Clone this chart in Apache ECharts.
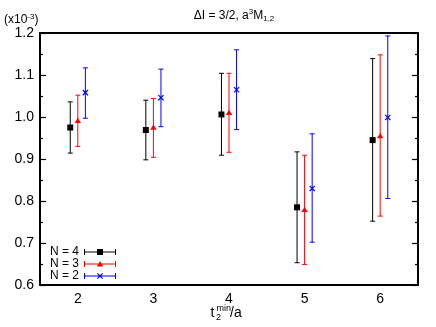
<!DOCTYPE html>
<html>
<head>
<meta charset="utf-8">
<script src="https://cdn.jsdelivr.net/npm/echarts@6/dist/echarts.min.js"></script>
<style>html,body{margin:0;padding:0;background:#fff}#c{width:436px;height:327px}</style>
</head>
<body>
<div id="c"></div>
<script>
const categories = ['2', '3', '4', '5', '6'];
const xs = [2, 3, 4, 5, 6];
const yTicks = [0.6, 0.7, 0.8, 0.9, 1.0, 1.1, 1.2];

const n4Center = [0.975, 0.969, 1.006, 0.785, 0.945];
const n4Low    = [0.914, 0.898, 0.909, 0.653, 0.752];
const n4High   = [1.036, 1.040, 1.104, 0.917, 1.139];

const n3Center = [0.991, 0.975, 1.010, 0.779, 0.955];
const n3Low    = [0.930, 0.904, 0.916, 0.649, 0.764];
const n3High   = [1.052, 1.044, 1.104, 0.909, 1.148];

const n2Center = [1.058, 1.046, 1.065, 0.830, 0.999];
const n2Low    = [0.997, 0.977, 0.970, 0.702, 0.806];
const n2High   = [1.117, 1.114, 1.160, 0.960, 1.193];

const FONT = '"Liberation Sans", Arial, Helvetica, sans-serif';

function makeData(offset, c, lo, hi) {
  return xs.map((x, i) => [x + offset, c[i], lo[i], hi[i]]);
}

function makeRender(marker) {
  return function (params, api) {
    const x = api.value(0), c = api.value(1), lo = api.value(2), hi = api.value(3);
    const pc = api.coord([x, c]);
    const pl = api.coord([x, lo]);
    const ph = api.coord([x, hi]);
    const color = api.visual('color');
    const cap = 2.5;
    const ls = { stroke: color, lineWidth: 1 };
    const children = [
      { type: 'line', shape: { x1: pl[0], y1: pl[1], x2: ph[0], y2: ph[1] }, style: ls },
      { type: 'line', shape: { x1: pl[0] - cap, y1: pl[1], x2: pl[0] + cap, y2: pl[1] }, style: ls },
      { type: 'line', shape: { x1: ph[0] - cap, y1: ph[1], x2: ph[0] + cap, y2: ph[1] }, style: ls }
    ];
    if (marker === 'square') {
      children.push({ type: 'rect', shape: { x: pc[0] - 3, y: pc[1] - 3, width: 6, height: 6 }, style: { fill: color } });
    } else if (marker === 'triangle') {
      children.push({ type: 'polygon', shape: { points: [[pc[0] - 3.2, pc[1] + 2.3], [pc[0] + 3.2, pc[1] + 2.3], [pc[0], pc[1] - 3]] }, style: { fill: color } });
    } else {
      const s = 2.6;
      children.push({ type: 'line', shape: { x1: pc[0] - s, y1: pc[1] - s, x2: pc[0] + s, y2: pc[1] + s }, style: { stroke: color, lineWidth: 1.2 } });
      children.push({ type: 'line', shape: { x1: pc[0] - s, y1: pc[1] + s, x2: pc[0] + s, y2: pc[1] - s }, style: { stroke: color, lineWidth: 1.2 } });
    }
    return { type: 'group', children };
  };
}

const base = 'M0,1h1v6h-1z M31,1h1v6h-1z M0,3.5h32v1h-32z ';
const iconSquare = 'path://' + base + 'M13,1h6v6h-6z';
const iconTri = 'path://' + base + 'M12.8,6.5L16,1L19.2,6.5z';
const iconCross = 'path://' + base + 'M13,1.8L13.8,1L19,6.2L18.2,7z M18.2,1L19,1.8L13.8,7L13,6.2z';

const axisLineStyle = { color: '#000', width: 2 };

const option = {
  animation: false,
  backgroundColor: '#fff',
  textStyle: { fontFamily: FONT },
  title: {
    text: 'ΔI = 3/2, a{sup|3}M{sub|1,2}',
    left: 229,
    top: 3,
    textAlign: 'center',
    textStyle: {
      fontFamily: FONT, fontSize: 12, fontWeight: 'normal', color: '#000',
      rich: {
        sup: { fontFamily: FONT, fontSize: 8, color: '#000', padding: [0, 0, 7, 0] },
        sub: { fontFamily: FONT, fontSize: 8, color: '#000', padding: [7, 0, 0, 0] }
      }
    }
  },
  legend: {
    orient: 'vertical',
    align: 'right',
    left: 45,
    top: 241,
    itemWidth: 32,
    itemHeight: 8,
    itemGap: 0,
    textStyle: { fontFamily: FONT, fontSize: 12, color: '#000', lineHeight: 11.5, padding: [0, 0, 0, 0] },
    data: [
      { name: 'N = 4', icon: iconSquare },
      { name: 'N = 3', icon: iconTri },
      { name: 'N = 2', icon: iconCross }
    ]
  },
  grid: { left: 40, right: 18, top: 33, bottom: 42, containLabel: false },
  xAxis: [
    {
      type: 'category', data: categories, boundaryGap: true, position: 'bottom',
      axisLine: { lineStyle: axisLineStyle },
      axisTick: { alignWithLabel: true, inside: true, length: 6, lineStyle: { color: '#000', width: 1.2 } },
      axisLabel: { fontFamily: FONT, fontSize: 14, color: '#000', margin: 7 },
      splitLine: { show: false }
    },
    { type: 'value', min: 1.5, max: 6.5, show: false },
    {
      type: 'category', data: categories, boundaryGap: true, position: 'top',
      axisLine: { lineStyle: axisLineStyle },
      axisTick: { alignWithLabel: true, inside: true, length: 6, lineStyle: { color: '#000', width: 1.2 } },
      axisLabel: { show: false },
      splitLine: { show: false }
    }
  ],
  yAxis: [
    {
      type: 'value', min: yTicks[0], max: yTicks[yTicks.length - 1], interval: 0.1,
      axisLine: { show: true, lineStyle: axisLineStyle },
      axisTick: { show: true, inside: true, length: 6, lineStyle: { color: '#000', width: 1.2 } },
      minorTick: { show: true, splitNumber: 2, length: 3, lineStyle: { color: '#000', width: 1.2 } },
      axisLabel: { fontFamily: FONT, fontSize: 14, color: '#000', margin: 6, formatter: v => v.toFixed(1) },
      splitLine: { show: false }
    },
    {
      type: 'value', min: yTicks[0], max: yTicks[yTicks.length - 1], interval: 0.1, position: 'right',
      axisLine: { show: true, lineStyle: axisLineStyle },
      axisTick: { show: true, inside: true, length: 6, lineStyle: { color: '#000', width: 1.2 } },
      minorTick: { show: true, splitNumber: 2, length: 3, lineStyle: { color: '#000', width: 1.2 } },
      axisLabel: { show: false },
      splitLine: { show: false }
    }
  ],
  graphic: [
    { type: 'text', x: 4, y: 20, style: { text: '(x10{s|-3})', font: '12px ' + FONT, fill: '#000', verticalAlign: 'middle',
      rich: { s: { fontSize: 8, fontFamily: FONT, fill: '#000', padding: [0, 0, 7, 0] } } } },
    { type: 'text', x: 210.5, y: 313, style: { text: 't', font: '14px ' + FONT, fill: '#000', verticalAlign: 'middle' } },
    { type: 'text', x: 216.5, y: 309, style: { text: 'min', font: '9px ' + FONT, fill: '#000', verticalAlign: 'middle' } },
    { type: 'text', x: 216, y: 318, style: { text: '2', font: '9px ' + FONT, fill: '#000', verticalAlign: 'middle' } },
    { type: 'text', x: 230, y: 313, style: { text: '/a', font: '14px ' + FONT, fill: '#000', verticalAlign: 'middle' } }
  ],
  series: [
    {
      name: 'N = 4', type: 'custom', xAxisIndex: 1, yAxisIndex: 0,
      itemStyle: { color: '#000000' },
      renderItem: makeRender('square'),
      encode: { x: 0, y: [1, 2, 3] },
      data: makeData(-0.1, n4Center, n4Low, n4High)
    },
    {
      name: 'N = 3', type: 'custom', xAxisIndex: 1, yAxisIndex: 0,
      itemStyle: { color: '#ff0000' },
      renderItem: makeRender('triangle'),
      encode: { x: 0, y: [1, 2, 3] },
      data: makeData(0, n3Center, n3Low, n3High)
    },
    {
      name: 'N = 2', type: 'custom', xAxisIndex: 1, yAxisIndex: 0,
      itemStyle: { color: '#0000ff' },
      renderItem: makeRender('cross'),
      encode: { x: 0, y: [1, 2, 3] },
      data: makeData(0.1, n2Center, n2Low, n2High)
    }
  ]
};

const chart = echarts.init(document.getElementById('c'), null, { renderer: 'canvas' });
chart.setOption(option);
</script>
</body>
</html>
